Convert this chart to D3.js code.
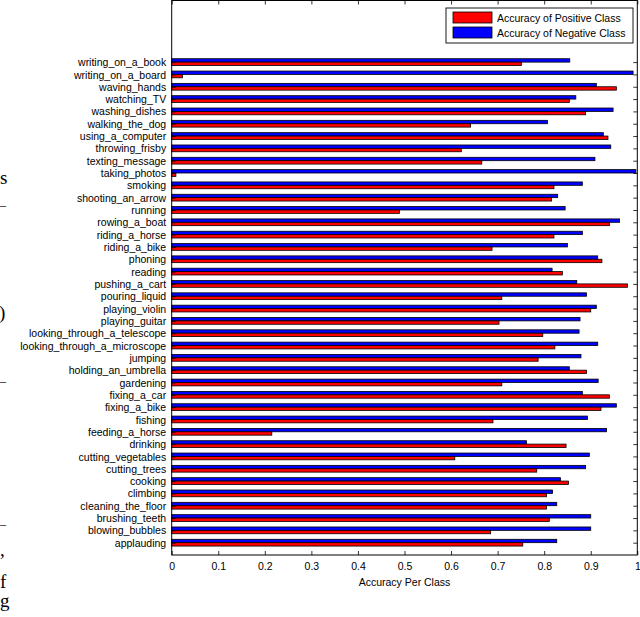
<!DOCTYPE html>
<html>
<head>
<meta charset="utf-8">
<script src="https://cdn.jsdelivr.net/npm/d3@7"></script>
<style>
  body { margin: 0; background: #fff; }
  svg { display: block; }
</style>
</head>
<body>
<script>
// categories listed top to bottom as in the figure
var categories = [
  "writing_on_a_book", "writing_on_a_board", "waving_hands", "watching_TV",
  "washing_dishes", "walking_the_dog", "using_a_computer", "throwing_frisby",
  "texting_message", "taking_photos", "smoking", "shooting_an_arrow",
  "running", "rowing_a_boat", "riding_a_horse", "riding_a_bike",
  "phoning", "reading", "pushing_a_cart", "pouring_liquid",
  "playing_violin", "playing_guitar", "looking_through_a_telescope",
  "looking_through_a_microscope", "jumping", "holding_an_umbrella",
  "gardening", "fixing_a_car", "fixing_a_bike", "fishing",
  "feeding_a_horse", "drinking", "cutting_vegetables", "cutting_trees",
  "cooking", "climbing", "cleaning_the_floor", "brushing_teeth",
  "blowing_bubbles", "applauding"
];
var positiveAcc = [
  0.751, 0.023, 0.955, 0.854, 0.889, 0.642, 0.937, 0.622,
  0.666, 0.009, 0.821, 0.816, 0.489, 0.940, 0.821, 0.688,
  0.924, 0.839, 0.979, 0.709, 0.900, 0.703, 0.797, 0.823,
  0.787, 0.891, 0.709, 0.940, 0.922, 0.690, 0.215, 0.847,
  0.608, 0.784, 0.852, 0.805, 0.805, 0.811, 0.685, 0.754
];
var negativeAcc = [
  0.855, 0.991, 0.912, 0.868, 0.948, 0.807, 0.927, 0.943,
  0.909, 0.997, 0.882, 0.829, 0.845, 0.962, 0.882, 0.850,
  0.915, 0.817, 0.870, 0.891, 0.912, 0.877, 0.875, 0.915,
  0.879, 0.854, 0.916, 0.882, 0.955, 0.893, 0.934, 0.762,
  0.897, 0.889, 0.835, 0.818, 0.827, 0.900, 0.900, 0.827
];
var xTicks = [0, 0.1, 0.2, 0.3, 0.4, 0.5, 0.6, 0.7, 0.8, 0.9, 1];
var legendLabels = ["Accuracy of Positive Class", "Accuracy of Negative Class"];
var seriesColors = ["#ff0000", "#0000ff"];

var width = 640, height = 617;
// (not "top": that name is taken by window.top)
var plotL = 171.7, plotR = 637.3, plotT = 0.5, plotB = 555;
var sans = "'Liberation Sans', Arial, Helvetica, sans-serif";

var svg = d3.select("body").append("svg")
    .attr("width", width)
    .attr("height", height);

// fragments of the neighbouring page text at the left edge
var fragments = [
  {t: "s", x: 0, y: 184, s: 19},
  {t: "\u2013", x: 0, y: 209, s: 12},
  {t: ")", x: -1, y: 319, s: 19},
  {t: "\u2013", x: 0, y: 385, s: 12},
  {t: "\u2013", x: 0, y: 528, s: 12},
  {t: ",", x: 0, y: 556, s: 19},
  {t: "f", x: 0, y: 588, s: 19},
  {t: "g", x: 0, y: 607, s: 19}
];
svg.selectAll("text.frag")
    .data(fragments)
    .enter()
    .append("text")
    .attr("class", "frag")
    .attr("x", function (d) { return d.x; })
    .attr("y", function (d) { return d.y; })
    .attr("font-family", "'Liberation Serif', 'DejaVu Serif', serif")
    .attr("font-size", function (d) { return d.s + "px"; })
    .text(function (d) { return d.t; });

var x = d3.scaleLinear().domain([0, 1]).range([plotL, plotR]);
// MATLAB style: first category at the top (position 40), last at 1, limits [0,45]
var y = d3.scaleLinear().domain([0, 45]).range([plotB, plotT]);
var n = categories.length;
function catY(i) { return y(n - i); }
var barH = y(0) - y(0.275);

var rows = categories.map(function (c, i) {
  return {name: c, pos: positiveAcc[i], neg: negativeAcc[i], i: i};
});

// bars: negative (blue) above, positive (red) below
var g = svg.append("g");
g.selectAll("rect.neg")
    .data(rows)
    .enter()
    .append("rect")
    .attr("class", "neg")
    .attr("x", x(0))
    .attr("y", function (d) { return catY(d.i) - barH; })
    .attr("width", function (d) { return x(d.neg) - x(0); })
    .attr("height", barH)
    .attr("fill", seriesColors[1])
    .attr("stroke", "#000")
    .attr("stroke-width", 0.8);
g.selectAll("rect.pos")
    .data(rows)
    .enter()
    .append("rect")
    .attr("class", "pos")
    .attr("x", x(0))
    .attr("y", function (d) { return catY(d.i); })
    .attr("width", function (d) { return x(d.pos) - x(0); })
    .attr("height", barH)
    .attr("fill", seriesColors[0])
    .attr("stroke", "#000")
    .attr("stroke-width", 0.8);

// axes (ticks pointing inward on all four sides)
var tickLen = 4;
var xAxisB = d3.axisBottom(x).tickValues(xTicks).tickSizeInner(-tickLen).tickSizeOuter(0)
    .tickFormat(function (d) { return d === 0 || d === 1 ? d3.format("d")(d) : d3.format(".1f")(d); });
var xAxisT = d3.axisTop(x).tickValues(xTicks).tickSizeInner(-tickLen).tickSizeOuter(0).tickFormat("");
var yAxisR = d3.axisRight(y)
    .tickValues(d3.range(1, n + 1)).tickSizeInner(-tickLen).tickSizeOuter(0).tickFormat("");
var yAxisL = d3.axisLeft(y)
    .tickValues(d3.range(1, n + 1)).tickSizeInner(-tickLen).tickSizeOuter(0)
    .tickFormat(function (d) { return categories[n - d]; });

var gb = svg.append("g").attr("transform", "translate(0," + plotB + ")").call(xAxisB);
gb.selectAll("text").attr("y", 7.5).attr("dy", "0.71em");
svg.append("g").attr("transform", "translate(0," + plotT + ")").call(xAxisT);
svg.append("g").attr("transform", "translate(" + plotR + ",0)").call(yAxisR);
var gl = svg.append("g").attr("transform", "translate(" + plotL + ",0)").call(yAxisL);
gl.selectAll("text").attr("x", -5.5).attr("dy", "0.34em");

svg.selectAll(".domain").remove();
svg.selectAll(".tick line").attr("stroke", "#000").attr("stroke-width", 0.8);
svg.selectAll(".tick text")
    .attr("font-family", sans)
    .attr("font-size", "10.5px")
    .attr("fill", "#000");
gl.selectAll("text").attr("font-size", "10.5px");

// box
svg.append("rect")
    .attr("x", plotL).attr("y", plotT)
    .attr("width", plotR - plotL).attr("height", plotB - plotT)
    .attr("fill", "none")
    .attr("stroke", "#000")
    .attr("stroke-width", 1);

// x axis label
svg.append("text")
    .attr("x", (plotL + plotR) / 2)
    .attr("y", 586)
    .attr("text-anchor", "middle")
    .attr("font-family", sans)
    .attr("font-size", "10.5px")
    .text("Accuracy Per Class");

// legend
var lg = svg.append("g").attr("transform", "translate(446,8)");
lg.append("rect")
    .attr("width", 187).attr("height", 35)
    .attr("fill", "#fff").attr("stroke", "#000").attr("stroke-width", 0.9);
var items = lg.selectAll("g.item")
    .data(legendLabels)
    .enter()
    .append("g")
    .attr("class", "item")
    .attr("transform", function (d, i) { return "translate(0," + (i * 15) + ")"; });
items.append("rect")
    .attr("x", 7).attr("y", 4)
    .attr("width", 39).attr("height", 11)
    .attr("fill", function (d, i) { return seriesColors[i]; })
    .attr("stroke", "#000").attr("stroke-width", 0.8);
items.append("text")
    .attr("x", 51).attr("y", 13.5)
    .attr("font-family", sans)
    .attr("font-size", "10.5px")
    .text(function (d) { return d; });
</script>
</body>
</html>
